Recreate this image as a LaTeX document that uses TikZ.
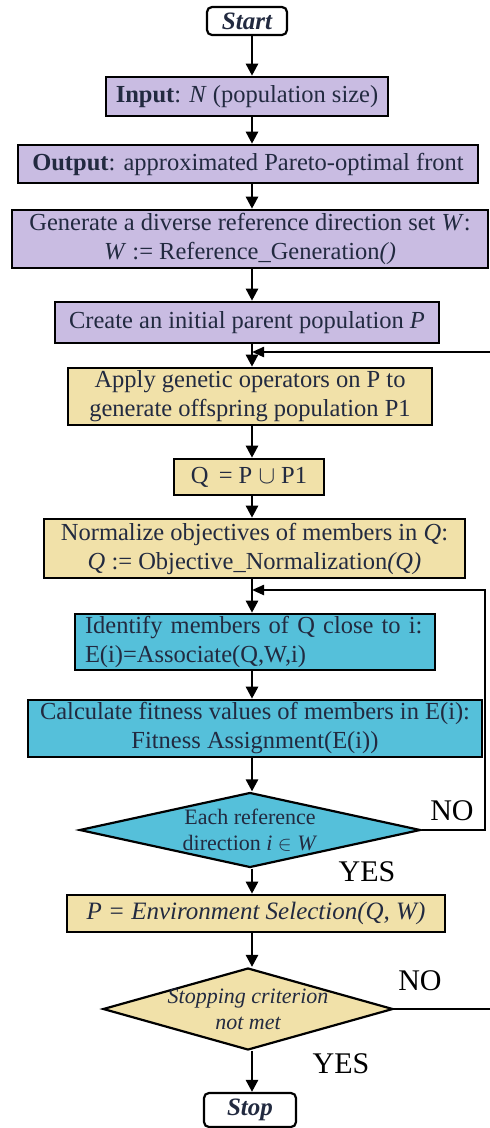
\documentclass[tikz,border=0pt]{standalone}
\usepackage{fontspec}
\setmainfont{Liberation Serif}
\usetikzlibrary{shapes.geometric,arrows.meta}
\definecolor{lav}{HTML}{C9BCE2}
\definecolor{tan}{HTML}{F1E1A9}
\definecolor{cyn}{HTML}{55C0DA}
\definecolor{txt}{HTML}{222A40}
\tikzset{
  box/.style={draw=black, line width=2.6pt, inner sep=1pt, align=center, text=txt,
    font=\fontsize{24.5}{29}\selectfont},
  purple/.style={box, fill=lav},
  yellow/.style={box, fill=tan},
  cyanbox/.style={box, fill=cyn},
  term/.style={draw=black, line width=2.2pt, rounded corners=5pt, fill=white,
    font=\fontsize{25}{28}\selectfont\bfseries\itshape, text=txt},
  dia/.style={diamond, draw=black, line width=2.2pt, inner sep=0pt},
  diatext/.style={align=center, text=txt, font=\fontsize{22}{26}\selectfont},
  arr/.style={line width=2.6pt, -{Triangle[length=12pt,width=12pt]}},
  lnk/.style={line width=2.2pt},
  lbl/.style={font=\fontsize{30}{32}\selectfont, text=black}
}
\begin{document}
\begin{tikzpicture}[x=1pt,y=-1pt]
\useasboundingbox (0,0) rectangle (490,1128);
\coordinate (ax) at (252,0);
\node[term, minimum width=80pt, minimum height=28pt, inner sep=0pt] (start) at (247,21) {Start};
\node[purple, minimum width=282pt, minimum height=39pt] (input) at (247,96.5) {\textbf{Input}: \textit{N} (population size)};
\node[purple, minimum width=460pt, minimum height=38pt] (output) at (248,164) {\textbf{Output}: approximated Pareto-optimal front};
\node[purple, minimum width=476pt, minimum height=58pt] (gen) at (250,239) {Generate a diverse reference direction set \textit{W}:\\\textit{W} := Reference\_Generation\textit{()}};
\node[purple, minimum width=384pt, minimum height=41pt] (create) at (247,322.5) {Create an initial parent population \textit{P}};
\coordinate (j1) at (252,352);
\node[yellow, minimum width=364pt, minimum height=57pt] (apply) at (250,396.5) {Apply genetic operators on P to\\generate offspring population P1};
\node[yellow, minimum width=150pt, minimum height=36pt] (q) at (249,477) {Q \,= P $\cup$ P1};
\node[yellow, minimum width=421pt, minimum height=59pt] (norm) at (254.5,548.5) {Normalize objectives of members in \textit{Q}:\\\textit{Q} := Objective\_Normalization\textit{(Q)}};
\coordinate (j2) at (252,590);
\node[cyanbox, minimum width=360pt, minimum height=56pt, align=left, text width=340pt] (ident) at (255,642) {Identify members of Q close to i:\\E(i)=Associate(Q,W,i)};
\node[cyanbox, minimum width=454pt, minimum height=57pt] (calc) at (255,728.5) {Calculate fitness values of members in E(i):\\Fitness Assignment(E(i))};
\node[dia, fill=cyn, minimum width=341pt, minimum height=75pt,
  label={[diatext]center:{Each reference\\direction \textit{i} $\in$ \textit{W}}}] (d1) at (250,830) {};
\node[yellow, minimum width=378pt, minimum height=37pt, font=\fontsize{25}{28}\selectfont\itshape] (env) at (256,913.5) {P = Environment Selection(Q, W)};
\node[dia, fill=tan, minimum width=290pt, minimum height=82pt,
  label={[diatext, font=\fontsize{22}{26}\selectfont\itshape]center:{Stopping criterion\\not met}}] (d2) at (248,1009) {};
\node[term, minimum width=92pt, minimum height=34pt, inner sep=0pt] (stop) at (250,1110) {Stop};

\draw[arr] (start.south -| ax) -- (input.north -| ax);
\draw[arr] (input.south -| ax) -- (output.north -| ax);
\draw[arr] (output.south -| ax) -- (gen.north -| ax);
\draw[arr] (gen.south -| ax) -- (create.north -| ax);
\draw[arr] (create.south -| ax) -- (apply.north -| ax);
\draw[arr] (apply.south -| ax) -- (q.north -| ax);
\draw[arr] (q.south -| ax) -- (norm.north -| ax);
\draw[arr] (norm.south -| ax) -- (ident.north -| ax);
\draw[arr] (ident.south -| ax) -- (calc.north -| ax);
\draw[arr] (calc.south -| ax) -- (d1.north -| ax);
\draw[arr] (d1.south -| ax) -- (env.north -| ax);
\draw[arr] (env.south -| ax) -- (d2.north -| ax);
\draw[arr] (d2.south -| ax) -- (stop.north -| ax);

\coordinate (r1) at (485,830);
\draw[lnk, -{Triangle[length=12pt,width=10pt]}] (d1.east) -- (r1) |- (j2);
\coordinate (r2) at (505,1009);
\draw[lnk, -{Triangle[length=12pt,width=10pt]}] (d2.east) -- (r2) |- (j1);

\node[lbl] (no1) at (452,811) {NO};
\node[lbl] (yes1) at (367,872) {YES};
\node[lbl] (no2) at (420,981) {NO};
\node[lbl] (yes2) at (341,1064) {YES};
\end{tikzpicture}
\end{document}
